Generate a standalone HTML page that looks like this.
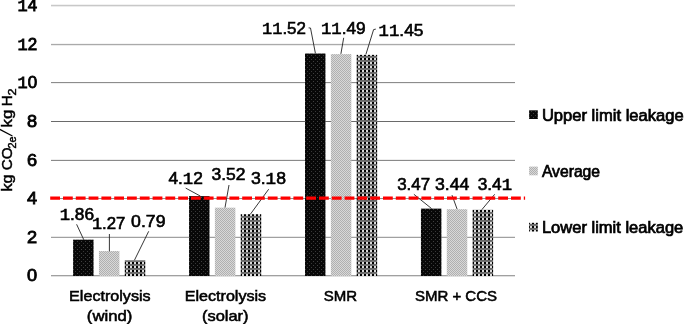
<!DOCTYPE html>
<html><head><meta charset="utf-8"><style>
html,body{margin:0;padding:0;background:#fff;}
svg{display:block;will-change:transform;}
text{font-family:"Liberation Sans",sans-serif;fill:#000;}
.dl{font-size:16.3px;stroke:#000;stroke-width:0.6px;}
.yl{font-size:16.5px;stroke:#000;stroke-width:0.8px;}
.xl{font-size:15px;stroke:#000;stroke-width:0.55px;}
.lg{font-size:15.8px;stroke:#000;stroke-width:0.7px;}
.yt{font-size:15.4px;stroke:#000;stroke-width:0.45px;}
.sub{font-size:10.4px;}
.m{font-family:"Liberation Mono",monospace;}
</style></head><body>
<svg width="685" height="324" viewBox="0 0 685 324">
<defs>
<pattern id="pU" patternUnits="userSpaceOnUse" width="4" height="4">
  <rect width="4" height="4" fill="#080808"/>
  <rect x="1" y="1" width="1" height="1" fill="#404040"/>
  <rect x="3" y="3" width="1" height="1" fill="#383838"/>
</pattern>
<pattern id="pA" patternUnits="userSpaceOnUse" width="2" height="2">
  <rect width="2" height="2" fill="#d8d8d8"/>
  <rect x="0" y="0" width="1" height="1" fill="#b0b0b0"/>
  <rect x="1" y="1" width="1" height="1" fill="#b0b0b0"/>
</pattern>
<pattern id="pL" patternUnits="userSpaceOnUse" width="4" height="4">
  <rect width="4" height="4" fill="#686868"/>
  <rect x="0" y="1" width="4" height="1" fill="#747474"/>
  <rect x="0" y="2" width="2" height="2" fill="#000"/>
  <rect x="2" y="2" width="2" height="2" fill="#dadada"/>
</pattern>
</defs>
<rect width="685" height="324" fill="#fff"/>
<rect x="51" y="5" width="464" height="1" fill="#c8c8c8"/>
<rect x="51" y="4" width="464" height="1" fill="#f2f2f2"/>
<rect x="51" y="6" width="464" height="1" fill="#ececec"/>
<rect x="51" y="44" width="464" height="1" fill="#aaaaaa"/>
<rect x="51" y="43" width="464" height="1" fill="#f4f4f4"/>
<rect x="51" y="45" width="464" height="1" fill="#ececec"/>
<rect x="51" y="82" width="464" height="1" fill="#8c8c8c"/>
<rect x="51" y="83" width="464" height="1" fill="#f0f0f0"/>
<rect x="51" y="121" width="464" height="1" fill="#6a6a6a"/>
<rect x="51" y="160" width="464" height="1" fill="#8a8a8a"/>
<rect x="51" y="159" width="464" height="1" fill="#eeeeee"/>
<rect x="51" y="198" width="464" height="1" fill="#909090"/>
<rect x="51" y="237" width="464" height="1" fill="#a0a0a0"/>
<rect x="51" y="236" width="464" height="1" fill="#e8e8e8"/>
<rect x="51" y="275" width="464" height="1" fill="#a0a0a0"/>
<rect x="51" y="276" width="464" height="1" fill="#e0e0e0"/>
<rect x="73.10" y="239.66" width="20.45" height="36.34" fill="url(#pU)"/>
<rect x="98.95" y="251.03" width="20.45" height="24.97" fill="url(#pA)"/>
<rect x="124.80" y="260.28" width="20.45" height="15.72" fill="url(#pL)"/>
<rect x="189.05" y="196.11" width="20.45" height="79.89" fill="url(#pU)"/>
<rect x="214.90" y="207.67" width="20.45" height="68.33" fill="url(#pA)"/>
<rect x="240.75" y="214.22" width="20.45" height="61.78" fill="url(#pL)"/>
<rect x="305.00" y="53.51" width="20.45" height="222.49" fill="url(#pU)"/>
<rect x="330.85" y="54.09" width="20.45" height="221.91" fill="url(#pA)"/>
<rect x="356.70" y="54.86" width="20.45" height="221.14" fill="url(#pL)"/>
<rect x="420.95" y="208.63" width="20.45" height="67.37" fill="url(#pU)"/>
<rect x="446.80" y="209.21" width="20.45" height="66.79" fill="url(#pA)"/>
<rect x="472.65" y="209.79" width="20.45" height="66.21" fill="url(#pL)"/>
<polyline points="76.6,224.3 83.8,239.8" fill="none" stroke="#202020" stroke-width="0.9"/>
<polyline points="109.4,234.0 109.4,251.3" fill="none" stroke="#202020" stroke-width="0.9"/>
<polyline points="148.7,231.3 134.4,260.3" fill="none" stroke="#202020" stroke-width="0.9"/>
<polyline points="185.7,188.1 200.4,196.1" fill="none" stroke="#202020" stroke-width="0.9"/>
<polyline points="229.0,185.0 225.0,207.6" fill="none" stroke="#202020" stroke-width="0.9"/>
<polyline points="268.7,189.2 250.3,214.3" fill="none" stroke="#202020" stroke-width="0.9"/>
<polyline points="308.6,27.9 310.5,28.0 315.4,53.3" fill="none" stroke="#202020" stroke-width="0.9"/>
<polyline points="343.7,37.8 340.9,53.9" fill="none" stroke="#202020" stroke-width="0.9"/>
<polyline points="375.8,29.1 373.6,29.6 365.9,54.4" fill="none" stroke="#202020" stroke-width="0.9"/>
<polyline points="413.9,194.3 431.6,208.6" fill="none" stroke="#202020" stroke-width="0.9"/>
<polyline points="452.0,195.1 457.1,209.1" fill="none" stroke="#202020" stroke-width="0.9"/>
<polyline points="494.7,194.3 481.8,209.7" fill="none" stroke="#202020" stroke-width="0.9"/>
<line x1="50.2" y1="198.1" x2="525.1" y2="198.1" stroke="#ff0000" stroke-width="3.4" stroke-dasharray="9.8 3.0"/>
<text class="dl" x="59.70" y="219.80" textLength="34.40" lengthAdjust="spacingAndGlyphs"><tspan class="m">1</tspan>.86</text>
<text class="dl" x="91.90" y="228.60" textLength="33.40" lengthAdjust="spacingAndGlyphs"><tspan class="m">1</tspan>.27</text>
<text class="dl" x="131.10" y="226.90" textLength="34.40" lengthAdjust="spacingAndGlyphs">0.79</text>
<text class="dl" x="168.40" y="184.10" textLength="34.50" lengthAdjust="spacingAndGlyphs">4.<tspan class="m">1</tspan>2</text>
<text class="dl" x="211.50" y="179.90" textLength="34.00" lengthAdjust="spacingAndGlyphs">3.52</text>
<text class="dl" x="250.90" y="184.20" textLength="35.10" lengthAdjust="spacingAndGlyphs">3.<tspan class="m">1</tspan>8</text>
<text class="dl" x="262.10" y="33.70" textLength="43.80" lengthAdjust="spacingAndGlyphs"><tspan class="m">1</tspan><tspan class="m">1</tspan>.52</text>
<text class="dl" x="321.00" y="33.70" textLength="44.70" lengthAdjust="spacingAndGlyphs"><tspan class="m">1</tspan><tspan class="m">1</tspan>.49</text>
<text class="dl" x="378.60" y="36.30" textLength="44.80" lengthAdjust="spacingAndGlyphs"><tspan class="m">1</tspan><tspan class="m">1</tspan>.45</text>
<text class="dl" x="397.20" y="190.20" textLength="32.90" lengthAdjust="spacingAndGlyphs">3.47</text>
<text class="dl" x="435.00" y="190.10" textLength="34.30" lengthAdjust="spacingAndGlyphs">3.44</text>
<text class="dl" x="477.70" y="190.00" textLength="34.40" lengthAdjust="spacingAndGlyphs">3.4<tspan class="m">1</tspan></text>
<text class="yl" x="17.60" y="11.20" textLength="19.6" lengthAdjust="spacingAndGlyphs"><tspan class="m">1</tspan>4</text>
<text class="yl" x="17.60" y="50.20" textLength="19.6" lengthAdjust="spacingAndGlyphs"><tspan class="m">1</tspan>2</text>
<text class="yl" x="17.60" y="88.20" textLength="19.6" lengthAdjust="spacingAndGlyphs"><tspan class="m">1</tspan>0</text>
<text class="yl" x="27.10" y="127.20" textLength="10.1" lengthAdjust="spacingAndGlyphs">8</text>
<text class="yl" x="27.10" y="166.20" textLength="10.1" lengthAdjust="spacingAndGlyphs">6</text>
<text class="yl" x="27.10" y="204.20" textLength="10.1" lengthAdjust="spacingAndGlyphs">4</text>
<text class="yl" x="27.10" y="243.20" textLength="10.1" lengthAdjust="spacingAndGlyphs">2</text>
<text class="yl" x="27.10" y="281.20" textLength="10.1" lengthAdjust="spacingAndGlyphs">0</text>
<text class="xl" x="109.85" y="301.2" text-anchor="middle" textLength="81.5" lengthAdjust="spacingAndGlyphs">Electrolysis</text>
<text class="xl" x="109.6" y="321.0" text-anchor="middle" textLength="45.5" lengthAdjust="spacingAndGlyphs">(wind)</text>
<text class="xl" x="225.45" y="301.2" text-anchor="middle" textLength="81.5" lengthAdjust="spacingAndGlyphs">Electrolysis</text>
<text class="xl" x="225.25" y="321.0" text-anchor="middle" textLength="46.6" lengthAdjust="spacingAndGlyphs">(solar)</text>
<text class="xl" x="340.5" y="301.2" text-anchor="middle">SMR</text>
<text class="xl" x="456.0" y="301.2" text-anchor="middle">SMR + CCS</text>
<rect x="529.1" y="110.3" width="8.7" height="8.7" fill="url(#pU)"/>
<text class="lg" x="541.9" y="120.5" textLength="141.8" lengthAdjust="spacingAndGlyphs">Upper limit leakage</text>
<rect x="529.1" y="166.6" width="8.7" height="8.7" fill="url(#pA)"/>
<text class="lg" x="541.9" y="176.6" textLength="58.2" lengthAdjust="spacingAndGlyphs">Average</text>
<rect x="529.1" y="222.8" width="8.7" height="8.7" fill="url(#pL)"/>
<text class="lg" x="541.9" y="232.7" textLength="141.4" lengthAdjust="spacingAndGlyphs">Lower limit leakage</text>
<text class="yt" transform="translate(11.8,191.6) rotate(-90)"><tspan x="0.00" y="0" textLength="17.30" lengthAdjust="spacingAndGlyphs">kg</tspan><tspan x="21.40" y="0" textLength="22.90" lengthAdjust="spacingAndGlyphs">CO</tspan><tspan x="43.00" y="3.8" textLength="12.10" lengthAdjust="spacingAndGlyphs" class="sub">2e</tspan><tspan x="64.20" y="0" textLength="17.80" lengthAdjust="spacingAndGlyphs">kg</tspan><tspan x="85.40" y="0" textLength="10.90" lengthAdjust="spacingAndGlyphs">H</tspan><tspan x="96.00" y="3.8" textLength="7.00" lengthAdjust="spacingAndGlyphs" class="sub">2</tspan></text>
<line x1="-0.5" y1="129.3" x2="12.4" y2="136.0" stroke="#000" stroke-width="1.3"/>
</svg>
</body></html>
